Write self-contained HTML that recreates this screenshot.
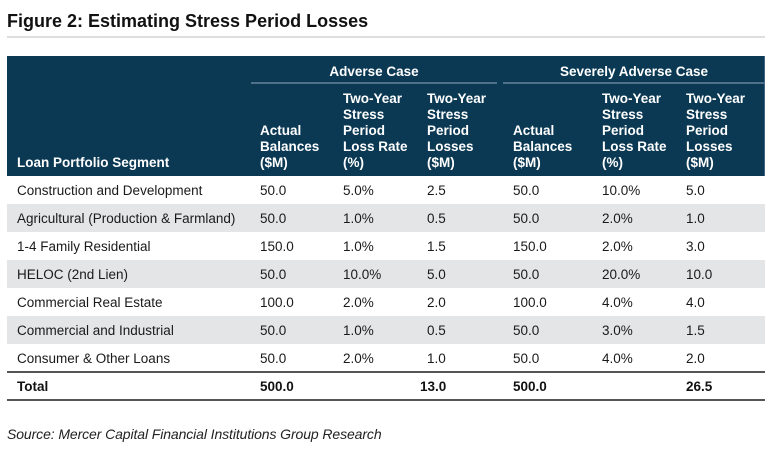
<!DOCTYPE html>
<html><head><meta charset="utf-8">
<style>
html,body{margin:0;padding:0;background:#fff;}
body{width:778px;height:461px;position:relative;overflow:hidden;font-family:"Liberation Sans",Arial,sans-serif;color:#111;}
.a{position:absolute;white-space:nowrap;}
.title{left:7px;top:12px;font-size:18px;line-height:18px;font-weight:bold;color:#111;}
.rule{left:7px;top:36px;width:758px;height:2px;background:#dedede;}
.hdr{left:7px;top:56px;width:758px;height:120px;background:#0b3954;}
.hedge{left:764px;top:56px;width:1px;height:120px;background:#3f6783;}
.h{font-size:13.5px;line-height:16px;font-weight:bold;color:#fff;}
.sub{height:2px;top:82px;background:#4f7089;}
.row{left:7px;width:758px;height:28px;}
.g{background:#e4e5e7;}
.c{font-size:13.5px;line-height:28px;color:#1a1a1a;margin-top:1px;}
.b{font-weight:bold;color:#111;}
.line{left:7px;width:758px;height:2px;background:#555;}
.src{left:7px;top:426px;font-size:14px;line-height:16px;font-style:italic;color:#222;letter-spacing:-0.1px;}
</style></head><body>
<div class="a title">Figure 2: Estimating Stress Period Losses</div>
<div class="a rule"></div>
<div class="a hdr"></div>
<div class="a hedge"></div>

<div class="a h" style="left:251px;width:246px;top:63.5px;text-align:center;">Adverse Case</div>
<div class="a h" style="left:503px;width:262px;top:63.5px;text-align:center;">Severely Adverse Case</div>
<div class="a sub" style="left:251px;width:246px;"></div>
<div class="a sub" style="left:503px;width:262px;"></div>

<div class="a h" style="left:17px;top:154.5px;">Loan Portfolio Segment</div>
<div class="a h" style="left:260px;top:122.5px;">Actual<br>Balances<br>($M)</div>
<div class="a h" style="left:343px;top:90.5px;">Two-Year<br>Stress<br>Period<br>Loss Rate<br>(%)</div>
<div class="a h" style="left:427px;top:90.5px;">Two-Year<br>Stress<br>Period<br>Losses<br>($M)</div>
<div class="a h" style="left:513px;top:122.5px;">Actual<br>Balances<br>($M)</div>
<div class="a h" style="left:602px;top:90.5px;">Two-Year<br>Stress<br>Period<br>Loss Rate<br>(%)</div>
<div class="a h" style="left:686px;top:90.5px;">Two-Year<br>Stress<br>Period<br>Losses<br>($M)</div>

<div class="a row g" style="top:204px;"></div>
<div class="a row g" style="top:260px;"></div>
<div class="a row g" style="top:316px;"></div>

<!-- row 1 -->
<div class="a c" style="left:17px;top:176px;">Construction and Development</div>
<div class="a c" style="left:260px;top:176px;">50.0</div>
<div class="a c" style="left:343px;top:176px;">5.0%</div>
<div class="a c" style="left:427px;top:176px;">2.5</div>
<div class="a c" style="left:513px;top:176px;">50.0</div>
<div class="a c" style="left:602px;top:176px;">10.0%</div>
<div class="a c" style="left:686px;top:176px;">5.0</div>
<!-- row 2 -->
<div class="a c" style="left:17px;top:204px;">Agricultural (Production &amp; Farmland)</div>
<div class="a c" style="left:260px;top:204px;">50.0</div>
<div class="a c" style="left:343px;top:204px;">1.0%</div>
<div class="a c" style="left:427px;top:204px;">0.5</div>
<div class="a c" style="left:513px;top:204px;">50.0</div>
<div class="a c" style="left:602px;top:204px;">2.0%</div>
<div class="a c" style="left:686px;top:204px;">1.0</div>
<!-- row 3 -->
<div class="a c" style="left:17px;top:232px;">1-4 Family Residential</div>
<div class="a c" style="left:260px;top:232px;">150.0</div>
<div class="a c" style="left:343px;top:232px;">1.0%</div>
<div class="a c" style="left:427px;top:232px;">1.5</div>
<div class="a c" style="left:513px;top:232px;">150.0</div>
<div class="a c" style="left:602px;top:232px;">2.0%</div>
<div class="a c" style="left:686px;top:232px;">3.0</div>
<!-- row 4 -->
<div class="a c" style="left:17px;top:260px;">HELOC (2nd Lien)</div>
<div class="a c" style="left:260px;top:260px;">50.0</div>
<div class="a c" style="left:343px;top:260px;">10.0%</div>
<div class="a c" style="left:427px;top:260px;">5.0</div>
<div class="a c" style="left:513px;top:260px;">50.0</div>
<div class="a c" style="left:602px;top:260px;">20.0%</div>
<div class="a c" style="left:686px;top:260px;">10.0</div>
<!-- row 5 -->
<div class="a c" style="left:17px;top:288px;">Commercial Real Estate</div>
<div class="a c" style="left:260px;top:288px;">100.0</div>
<div class="a c" style="left:343px;top:288px;">2.0%</div>
<div class="a c" style="left:427px;top:288px;">2.0</div>
<div class="a c" style="left:513px;top:288px;">100.0</div>
<div class="a c" style="left:602px;top:288px;">4.0%</div>
<div class="a c" style="left:686px;top:288px;">4.0</div>
<!-- row 6 -->
<div class="a c" style="left:17px;top:316px;">Commercial and Industrial</div>
<div class="a c" style="left:260px;top:316px;">50.0</div>
<div class="a c" style="left:343px;top:316px;">1.0%</div>
<div class="a c" style="left:427px;top:316px;">0.5</div>
<div class="a c" style="left:513px;top:316px;">50.0</div>
<div class="a c" style="left:602px;top:316px;">3.0%</div>
<div class="a c" style="left:686px;top:316px;">1.5</div>
<!-- row 7 -->
<div class="a c" style="left:17px;top:344px;">Consumer &amp; Other Loans</div>
<div class="a c" style="left:260px;top:344px;">50.0</div>
<div class="a c" style="left:343px;top:344px;">2.0%</div>
<div class="a c" style="left:427px;top:344px;">1.0</div>
<div class="a c" style="left:513px;top:344px;">50.0</div>
<div class="a c" style="left:602px;top:344px;">4.0%</div>
<div class="a c" style="left:686px;top:344px;">2.0</div>

<div class="a line" style="top:371px;"></div>
<div class="a c b" style="left:17px;top:372px;">Total</div>
<div class="a c b" style="left:260px;top:372px;">500.0</div>
<div class="a c b" style="left:420px;top:372px;">13.0</div>
<div class="a c b" style="left:513px;top:372px;">500.0</div>
<div class="a c b" style="left:686px;top:372px;">26.5</div>
<div class="a line" style="top:399px;"></div>

<div class="a src">Source: Mercer Capital Financial Institutions Group Research</div>
</body></html>
